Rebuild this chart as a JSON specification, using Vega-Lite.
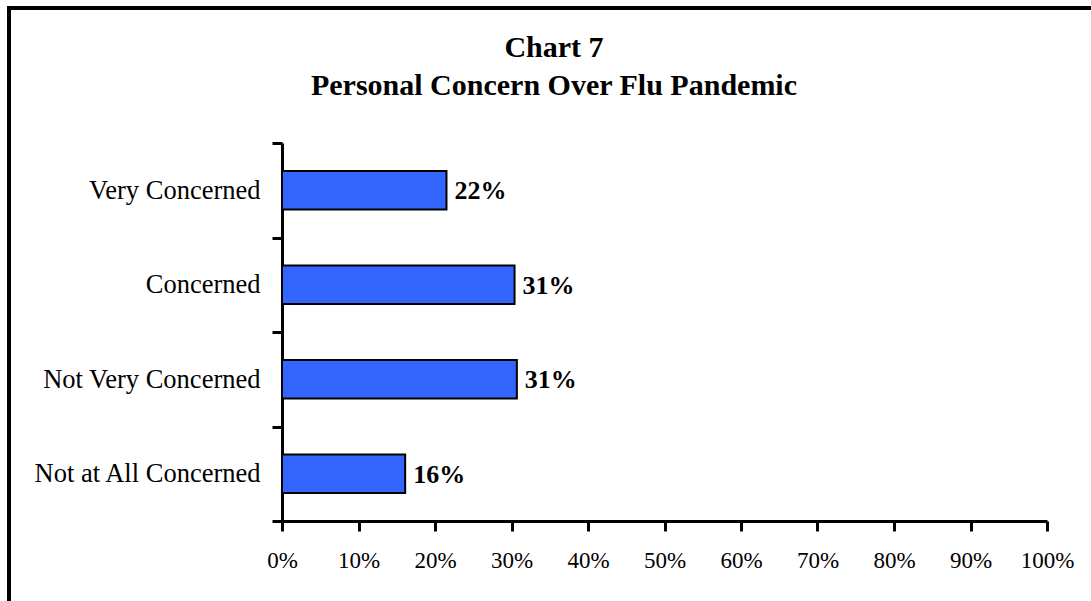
{
  "$schema": "https://vega.github.io/schema/vega-lite/v6.json",
  "autosize": "none",
  "width": 1090,
  "height": 600,
  "padding": {"left": 9, "top": 8, "right": -8, "bottom": -7},
  "background": "white",
  "title": {
    "text": ["Chart 7", "Personal Concern Over Flu Pandemic"],
    "font": "Liberation Serif",
    "fontSize": 30,
    "fontWeight": "bold",
    "color": "black",
    "lineHeight": 38,
    "anchor": "middle",
    "frame": "group",
    "baseline": "top",
    "offset": -106
  },
  "config": {
    "view": {"stroke": "black", "strokeWidth": 4},
    "axis": {
      "labelFont": "Liberation Serif",
      "labelColor": "black",
      "domainColor": "black",
      "tickColor": "black",
      "domainWidth": 3,
      "tickWidth": 3,
      "tickSize": 10,
      "grid": false,
      "title": null
    }
  },
  "data": {
    "values": [
      {"category": "Very Concerned", "value": 0.215, "label": "22%"},
      {"category": "Concerned", "value": 0.304, "label": "31%"},
      {"category": "Not Very Concerned", "value": 0.307, "label": "31%"},
      {"category": "Not at All Concerned", "value": 0.161, "label": "16%"}
    ]
  },
  "encoding": {
    "y": {
      "field": "category",
      "type": "nominal",
      "sort": null,
      "scale": {"range": [135, 513], "paddingInner": 0, "paddingOuter": 0},
      "axis": {
        "orient": "left",
        "offset": -273,
        "tickBand": "extent",
        "labelFontSize": 26.5,
        "labelPadding": 12,
        "labelLimit": 400
      }
    },
    "x": {
      "field": "value",
      "type": "quantitative",
      "scale": {"domain": [0, 1], "range": [273, 1038], "nice": false, "zero": true},
      "axis": {
        "orient": "bottom",
        "offset": -87,
        "format": ".0%",
        "values": [0, 0.1, 0.2, 0.3, 0.4, 0.5, 0.6, 0.7, 0.8, 0.9, 1],
        "labelFontSize": 23,
        "labelPadding": 18,
        "labelOverlap": false,
        "labelFlush": false
      }
    }
  },
  "layer": [
    {
      "mark": {"type": "bar", "color": "#3366FF", "stroke": "black", "strokeWidth": 2, "height": {"band": 0.41}}
    },
    {
      "mark": {"type": "text", "align": "left", "baseline": "middle", "dx": 8, "dy": 1, "font": "Liberation Serif", "fontSize": 26, "fontWeight": "bold", "color": "black"},
      "encoding": {"text": {"field": "label"}}
    }
  ]
}
